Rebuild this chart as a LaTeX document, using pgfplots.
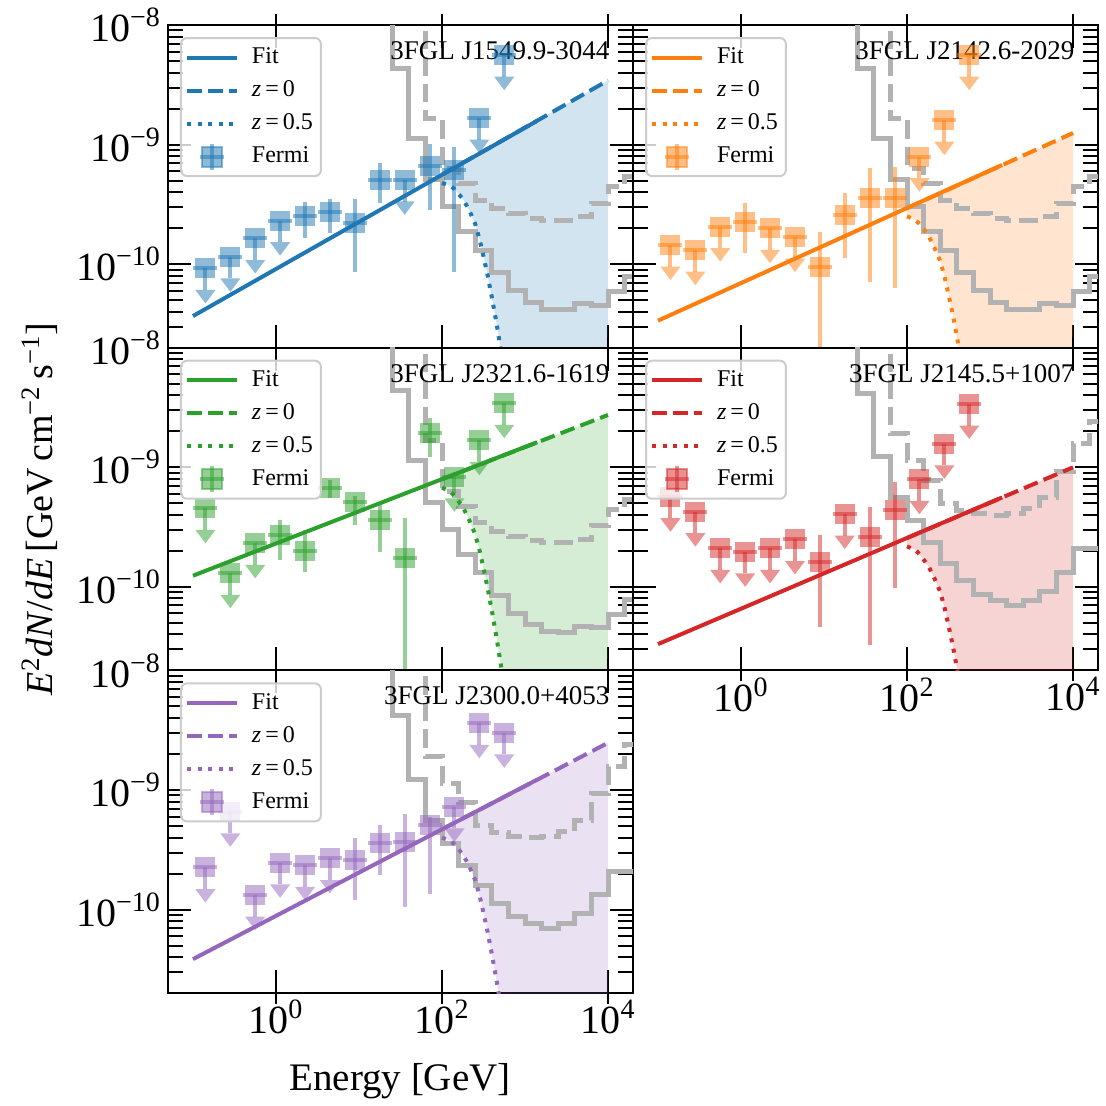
\documentclass[border=0pt]{standalone}
\usepackage{pgfplots}
\usepackage{pgfplotstable}
\pgfplotsset{compat=1.18}
\usepackage{fontspec}
\setmainfont{Liberation Serif}

\definecolor{tabblue}{RGB}{31,119,180}
\definecolor{taborange}{RGB}{255,127,14}
\definecolor{tabgreen}{RGB}{44,160,44}
\definecolor{tabred}{RGB}{214,39,40}
\definecolor{tabpurple}{RGB}{148,103,189}
\definecolor{sens}{RGB}{178,178,178}

% sensitivity step curves (left bin edge, level)
\pgfplotstableread{
x y
15.85 3e-8
25.12 4.35e-9
39.81 1.13e-9
63.10 5.06e-10
100 3.02e-10
158.5 1.86e-10
251.2 1.31e-10
398.1 8.5e-11
631.0 6.0e-11
1000 4.8e-11
1585 4.2e-11
2512 4.15e-11
3981 4.7e-11
6310 4.55e-11
10000 5.87e-11
15850 7.85e-11
25120 7.85e-11
}\sensAs
\pgfplotstableread{
x y
39.81 3e-8
63.10 1.66e-9
100 6.32e-10
158.5 4.74e-10
251.2 3.44e-10
398.1 2.93e-10
631.0 2.66e-10
1000 2.42e-10
1585 2.34e-10
2512 2.34e-10
3981 2.49e-10
6310 3.23e-10
10000 4.45e-10
15850 5.38e-10
25120 5.38e-10
}\sensAd
\pgfplotstableread{
x y
15.85 3e-8
25.12 4.17e-9
39.81 1.23e-9
63.10 5.6e-10
100 3.6e-10
158.5 2.34e-10
251.2 1.58e-10
398.1 1.12e-10
631.0 8.7e-11
1000 7.7e-11
1585 7.0e-11
2512 7.7e-11
3981 9.2e-11
6310 1.33e-10
10000 2.09e-10
15850 2.09e-10
25120 2.09e-10
}\sensBs
\pgfplotstableread{
x y
39.81 3e-8
63.10 1.91e-9
100 1.14e-9
158.5 7.8e-10
251.2 5.0e-10
398.1 4.37e-10
631.0 4.1e-10
1000 3.98e-10
1585 4.1e-10
2512 4.5e-10
3981 5.6e-10
6310 9.3e-10
10000 1.58e-9
15850 2.4e-9
25120 2.4e-9
}\sensBd

% z=0.5 curves
\pgfplotstableread{
x y
100 4.76e-10
112.2 4.66e-10
125.9 4.54e-10
141.3 4.24e-10
158.5 3.86e-10
177.8 3.52e-10
199.5 3.06e-10
223.9 2.61e-10
251.2 2.17e-10
281.8 1.64e-10
316.2 1.16e-10
354.8 8.04e-11
398.1 5.30e-11
446.7 3.42e-11
501.2 2.11e-11
562.3 1.27e-11
631.0 7.3e-12
}\dotA
\pgfplotstableread{
x y
100 2.51e-10
112.2 2.43e-10
125.9 2.34e-10
141.3 2.17e-10
158.5 1.96e-10
177.8 1.77e-10
199.5 1.52e-10
223.9 1.28e-10
251.2 1.06e-10
281.8 7.95e-11
316.2 5.57e-11
354.8 3.82e-11
398.1 2.50e-11
446.7 1.60e-11
501.2 9.74e-12
}\dotB
\pgfplotstableread{
x y
100 6.76e-10
112.2 6.51e-10
125.9 6.27e-10
141.3 5.76e-10
158.5 5.17e-10
177.8 4.65e-10
199.5 3.99e-10
223.9 3.34e-10
251.2 2.74e-10
281.8 2.05e-10
316.2 1.43e-10
354.8 9.72e-11
398.1 6.33e-11
446.7 4.03e-11
501.2 2.45e-11
562.3 1.45e-11
631.0 8.2e-12
}\dotC
\pgfplotstableread{
x y
100 2.18e-10
112.2 2.11e-10
125.9 2.04e-10
141.3 1.88e-10
158.5 1.69e-10
177.8 1.52e-10
199.5 1.31e-10
223.9 1.10e-10
251.2 9.07e-11
281.8 6.80e-11
316.2 4.75e-11
354.8 3.25e-11
398.1 2.12e-11
446.7 1.35e-11
501.2 8.2e-12
}\dotD
\pgfplotstableread{
x y
100 3.99e-10
112.2 3.88e-10
125.9 3.78e-10
141.3 3.51e-10
158.5 3.19e-10
177.8 2.89e-10
199.5 2.51e-10
223.9 2.13e-10
251.2 1.76e-10
281.8 1.33e-10
316.2 9.38e-11
354.8 6.46e-11
398.1 4.25e-11
446.7 2.73e-11
501.2 1.68e-11
562.3 1.01e-11
}\dotE

% Fermi points: detections (x y ep em) and upper limits (x y em ye: shaft, arrow head)
\pgfplotstableread{
x y ep em
2.239 2.54e-10 7.9e-11 9.0e-11
4.467 2.75e-10 7.3e-11 9.4e-11
8.913 2.22e-10 1.26e-10 1.355e-10
17.78 5.06e-10 1.91e-10 1.83e-10
70.79 6.65e-10 3.55e-10 3.79e-10
141.3 6.12e-10 3.47e-10 5.255e-10
}\detA
\pgfplotstableread{
x y em ye
0.1413 9.2e-11 3.13e-11 5.58e-11
0.2818 1.15e-10 3.91e-11 6.97e-11
0.5623 1.64e-10 5.58e-11 9.94e-11
1.122 2.31e-10 7.85e-11 1.40e-10
35.48 5.06e-10 1.72e-10 3.07e-10
281.8 1.66e-9 5.64e-10 1.01e-9
562.3 5.6e-9 1.90e-9 3.39e-9
}\ulA
\pgfplotstableread{
x y ep em
1.122 2.26e-10 9.7e-11 1.03e-10
8.913 9.5e-11 9.2e-11 9.4e-11
17.78 2.58e-10 1.38e-10 1.46e-10
35.48 3.55e-10 2.77e-10 2.837e-10
70.79 3.55e-10 2.98e-10 2.922e-10
}\detB
\pgfplotstableread{
x y em ye
0.1413 1.445e-10 4.91e-11 8.76e-11
0.2818 1.31e-10 4.45e-11 7.94e-11
0.5623 2.06e-10 7.00e-11 1.25e-10
2.239 1.99e-10 6.77e-11 1.21e-10
4.467 1.69e-10 5.75e-11 1.02e-10
141.3 7.92e-10 2.69e-10 4.80e-10
281.8 1.60e-9 5.44e-10 9.70e-10
562.3 5.6e-9 1.90e-9 3.39e-9
}\ulB
\pgfplotstableread{
x y ep em
1.122 2.71e-10 9.1e-11 1.04e-10
2.239 2.0e-10 9.8e-11 6.6e-11
4.467 6.67e-10 1.1e-10 1.1e-10
8.913 5.09e-10 6.6e-11 1.8e-10
17.78 3.62e-10 1.53e-10 1.65e-10
35.48 1.73e-10 2.01e-10 1.72e-10
70.79 1.92e-9 6.5e-10 7.0e-10
}\detC
\pgfplotstableread{
x y em ye
0.1413 4.54e-10 1.54e-10 2.75e-10
0.2818 1.30e-10 4.42e-11 7.88e-11
0.5623 2.31e-10 7.85e-11 1.40e-10
141.3 8.34e-10 2.84e-10 5.05e-10
281.8 1.69e-9 5.75e-10 1.02e-9
562.3 3.43e-9 1.17e-9 2.08e-9
}\ulC
\pgfplotstableread{
x y ep em
8.913 1.62e-10 1.09e-10 1.157e-10
35.48 2.59e-10 2.09e-10 2.264e-10
70.79 4.40e-10 3.17e-10 3.427e-10
}\detD
\pgfplotstableread{
x y em ye
0.1413 5.68e-10 1.93e-10 3.44e-10
0.2818 4.25e-10 1.45e-10 2.58e-10
0.5623 2.10e-10 7.14e-11 1.27e-10
1.122 1.97e-10 6.70e-11 1.19e-10
2.239 2.10e-10 7.14e-11 1.27e-10
4.467 2.49e-10 8.47e-11 1.51e-10
17.78 4.06e-10 1.38e-10 2.46e-10
141.3 7.93e-10 2.70e-10 4.81e-10
281.8 1.57e-9 5.34e-10 9.51e-10
562.3 3.38e-9 1.15e-9 2.05e-9
}\ulD
\pgfplotstableread{
x y ep em
8.913 2.59e-10 1.35e-10 1.39e-10
17.78 3.57e-10 1.51e-10 1.63e-10
35.48 3.69e-10 2.59e-10 2.64e-10
70.79 5.08e-10 8.9e-11 3.72e-10
}\detE
\pgfplotstableread{
x y em ye
0.1413 2.25e-10 7.65e-11 1.36e-10
0.2818 6.56e-10 2.23e-10 3.98e-10
0.5623 1.32e-10 4.49e-11 8.00e-11
1.122 2.46e-10 8.36e-11 1.49e-10
2.239 2.35e-10 7.99e-11 1.42e-10
4.467 2.68e-10 9.11e-11 1.62e-10
141.3 7.23e-10 2.46e-10 4.38e-10
281.8 3.61e-9 1.23e-9 2.19e-9
562.3 3.01e-9 1.02e-9 1.82e-9
}\ulE

\pgfplotsset{
  legend image code/.code={\draw[#1] (0pt,0pt) -- (25pt,0pt);},
  xlabels/.style={xticklabels={10\textsuperscript{0},10\textsuperscript{2},10\textsuperscript{4}}},
  noylabels/.style={yticklabels={}},
  fitline/.style={#1, line width=2pt},
  zzero/.style={#1, line width=2pt, dash pattern=on 7.4pt off 3.2pt},
  zhalf/.style={#1, line width=2pt, dash pattern=on 2pt off 3.3pt},
  senssolid/.style={sens, line width=2.5pt, const plot},
  sensdash/.style={sens, line width=2.5pt, const plot, dash pattern=on 9.25pt off 4pt},
  ebl/.style={fill=#1, fill opacity=0.2, draw=none, forget plot},
}

\newcommand{\fermi}[3]{%
  \addplot[#1, only marks, mark=square*, mark size=5pt,
    mark options={draw opacity=0, fill=#1, fill opacity=0.5},
    legend image code/.code={%
      \fill[#1, opacity=0.5, sharp corners] (7.5pt,-5pt) rectangle (17.5pt,5pt);
      \draw[#1, opacity=0.5, line width=2pt, sharp corners] (12.5pt,-6.5pt) -- (12.5pt,6.5pt);
      \draw[#1, opacity=0.5, line width=2pt, sharp corners] (6.5pt,0pt) -- (18.5pt,0pt);},
    error bars/.cd, y dir=both, y explicit, error mark=none,
    error bar style={#1, line width=2pt, opacity=0.5}]
    table[x=x, y=y, y error plus=ep, y error minus=em] {#2};
  \addplot[#1, only marks, mark=square*, mark size=5pt, forget plot,
    mark options={draw opacity=0, fill=#1, fill opacity=0.5},
    error bars/.cd, y dir=minus, y explicit, error mark=none,
    error bar style={#1, line width=2pt, opacity=0.5}]
    table[x=x, y=y, y error minus=em] {#3};
  \addplot[#1, only marks, mark=triangle*, mark size=5.8pt, forget plot,
    mark options={rotate=180, yscale=0.77, draw opacity=0, fill=#1, fill opacity=0.5}]
    table[x=x, y=ye] {#3};
  \addplot[#1, only marks, mark=-, mark size=6pt, forget plot,
    mark options={#1, line width=2pt, opacity=0.5}] table[x=x, y=y] {#2};
  \addplot[#1, only marks, mark=-, mark size=6pt, forget plot,
    mark options={#1, line width=2pt, opacity=0.5}] table[x=x, y=y] {#3};
}

\newcommand{\entries}{\legend{Fit,\textit{z}\,=\,0,\textit{z}\,=\,0.5,Fermi}}
\newcommand{\srcname}[1]{\node[anchor=north east, inner sep=0pt, font=\fontsize{13.5}{16}\selectfont] at (rel axis cs:0.95,0.95) {#1};}

\begin{document}
\begin{tikzpicture}
\pgfplotsset{every axis/.append style={
    width=232.5pt, height=161.35pt, scale only axis,
    anchor=north west,
    xmode=log, ymode=log,
    xmin=0.05, xmax=2e4, ymin=2e-11, ymax=1e-8,
    xtick={1,100,10000}, xticklabels={},
    ytick={1e-10,1e-9,1e-8},
    yticklabels={10\textsuperscript{−10},10\textsuperscript{−9},10\textsuperscript{−8}},
    minor ytick={2e-11,3e-11,4e-11,5e-11,6e-11,7e-11,8e-11,9e-11,
      2e-10,3e-10,4e-10,5e-10,6e-10,7e-10,8e-10,9e-10,
      2e-9,3e-9,4e-9,5e-9,6e-9,7e-9,8e-9,9e-9},
    extra x ticks={1,100,10000}, extra x tick labels={},
    extra x tick style={tick align=outside, major tick length=5.5pt},
    tick align=inside,
    major tick length=11.5pt, minor tick length=7.5pt,
    tick style={black, line width=1pt},
    axis line style={line width=1pt},
    tick label style={font=\fontsize{20}{23}\selectfont},
    legend style={at={(0,1)}, anchor=north west, xshift=6pt, yshift=-6pt,
      font=\fontsize{12}{14}\selectfont, draw=black!20, line width=1pt,
      rounded corners=3pt, fill=white, fill opacity=0.8, text opacity=1,
      inner xsep=2pt, inner ysep=1.5pt, column sep=4.5pt, row sep=0pt,
      nodes={inner xsep=2pt, inner ysep=2.75pt, text height=8.6pt, text depth=2.4pt}},
    legend cell align=left,
  }}
\useasboundingbox (-84pt,12.5pt) rectangle (469pt,-540pt);

% panel 1
\begin{axis}[at={(0pt,0pt)}]
\addplot[ebl=tabblue] coordinates {(100,4.76e-10) (112.2,4.66e-10) (125.9,4.54e-10) (141.3,4.24e-10) (158.5,3.86e-10) (177.8,3.52e-10) (199.5,3.06e-10) (223.9,2.61e-10) (251.2,2.17e-10) (281.8,1.64e-10) (316.2,1.16e-10) (354.8,8.04e-11) (398.1,5.30e-11) (446.7,3.42e-11) (501.2,2.11e-11) (562.3,1.27e-11) (631.0,7.3e-12) (10000,1e-12) (10000,3.44e-9) (100,5.60e-10)};
\addplot[senssolid, forget plot] table {\sensAs};
\addplot[sensdash, forget plot] table {\sensAd};
\addplot[fitline=tabblue] coordinates {(0.1,3.68e-11) (1400,1.58e-9)};
\addplot[zzero=tabblue] coordinates {(100,5.60e-10) (10000,3.44e-9)};
\addplot[zhalf=tabblue] table {\dotA};
\fermi{tabblue}{\detA}{\ulA}
\entries
\srcname{3FGL J1549.9-3044}
\end{axis}

% panel 2
\begin{axis}[noylabels, at={(232.5pt,0pt)}]
\addplot[ebl=taborange] coordinates {(100,2.51e-10) (112.2,2.43e-10) (125.9,2.34e-10) (141.3,2.17e-10) (158.5,1.96e-10) (177.8,1.77e-10) (199.5,1.52e-10) (223.9,1.28e-10) (251.2,1.06e-10) (281.8,7.95e-11) (316.2,5.57e-11) (354.8,3.82e-11) (398.1,2.50e-11) (446.7,1.60e-11) (501.2,9.74e-12) (10000,1e-12) (10000,1.25e-9) (100,2.94e-10)};
\addplot[senssolid, forget plot] table {\sensAs};
\addplot[sensdash, forget plot] table {\sensAd};
\addplot[fitline=taborange] coordinates {(0.1,3.37e-11) (1400,6.75e-10)};
\addplot[zzero=taborange] coordinates {(100,2.94e-10) (10000,1.25e-9)};
\addplot[zhalf=taborange] table {\dotB};
\fermi{taborange}{\detB}{\ulB}
\entries
\srcname{3FGL J2142.6-2029}
\end{axis}

% panel 3
\begin{axis}[at={(0pt,-161.35pt)}]
\addplot[ebl=tabgreen] coordinates {(100,6.76e-10) (112.2,6.51e-10) (125.9,6.27e-10) (141.3,5.76e-10) (158.5,5.17e-10) (177.8,4.65e-10) (199.5,3.99e-10) (223.9,3.34e-10) (251.2,2.74e-10) (281.8,2.05e-10) (316.2,1.43e-10) (354.8,9.72e-11) (398.1,6.33e-11) (446.7,4.03e-11) (501.2,2.45e-11) (562.3,1.45e-11) (631.0,8.2e-12) (10000,1e-12) (10000,2.74e-9) (100,7.94e-10)};
\addplot[senssolid, forget plot] table {\sensAs};
\addplot[sensdash, forget plot] table {\sensAd};
\addplot[fitline=tabgreen] coordinates {(0.1,1.24e-10) (1400,1.62e-9)};
\addplot[zzero=tabgreen] coordinates {(100,7.94e-10) (10000,2.74e-9)};
\addplot[zhalf=tabgreen] table {\dotC};
\fermi{tabgreen}{\detC}{\ulC}
\entries
\srcname{3FGL J2321.6-1619}
\end{axis}

% panel 4
\begin{axis}[noylabels, xlabels, at={(232.5pt,-161.35pt)}]
\addplot[ebl=tabred] coordinates {(100,2.18e-10) (112.2,2.11e-10) (125.9,2.04e-10) (141.3,1.88e-10) (158.5,1.69e-10) (177.8,1.52e-10) (199.5,1.31e-10) (223.9,1.10e-10) (251.2,9.07e-11) (281.8,6.80e-11) (316.2,4.75e-11) (354.8,3.25e-11) (398.1,2.12e-11) (446.7,1.35e-11) (501.2,8.2e-12) (10000,1e-12) (10000,1.00e-9) (100,2.56e-10)};
\addplot[senssolid, forget plot] table {\sensBs};
\addplot[sensdash, forget plot] table {\sensBd};
\addplot[fitline=tabred] coordinates {(0.1,3.32e-11) (1400,5.60e-10)};
\addplot[zzero=tabred] coordinates {(100,2.56e-10) (10000,1.00e-9)};
\addplot[zhalf=tabred] table {\dotD};
\fermi{tabred}{\detD}{\ulD}
\entries
\srcname{3FGL J2145.5+1007}
\end{axis}

% panel 5
\begin{axis}[xlabels, at={(0pt,-322.7pt)}]
\addplot[ebl=tabpurple] coordinates {(100,3.99e-10) (112.2,3.88e-10) (125.9,3.78e-10) (141.3,3.51e-10) (158.5,3.19e-10) (177.8,2.89e-10) (199.5,2.51e-10) (223.9,2.13e-10) (251.2,1.76e-10) (281.8,1.33e-10) (316.2,9.38e-11) (354.8,6.46e-11) (398.1,4.25e-11) (446.7,2.73e-11) (501.2,1.68e-11) (562.3,1.01e-11) (10000,1e-12) (10000,2.48e-9) (100,4.69e-10)};
\addplot[senssolid, forget plot] table {\sensBs};
\addplot[sensdash, forget plot] table {\sensBd};
\addplot[fitline=tabpurple] coordinates {(0.1,3.85e-11) (1400,1.22e-9)};
\addplot[zzero=tabpurple] coordinates {(100,4.69e-10) (10000,2.48e-9)};
\addplot[zhalf=tabpurple] table {\dotE};
\fermi{tabpurple}{\detE}{\ulE}
\entries
\srcname{3FGL J2300.0+4053}
\end{axis}

\node[rotate=90, font=\fontsize{19}{22}\selectfont] at (-64pt,-242pt)
  {\textit{E}\textsuperscript{2}\textit{dN}/\textit{dE}\,[GeV\,cm\textsuperscript{−2}\,s\textsuperscript{−1}]};
\node[anchor=base, font=\fontsize{19.5}{22}\selectfont] at (116pt,-532.5pt) {Energy [GeV]};
\end{tikzpicture}
\end{document}
